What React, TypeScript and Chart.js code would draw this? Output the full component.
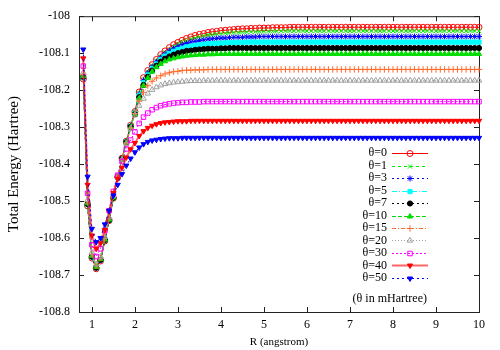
import React, { useEffect, useRef } from "react";
import { Chart, registerables } from "chart.js";
import { drawPoint } from "chart.js/helpers";

Chart.register(...registerables);

// ---------- data ----------
const R = [
  0.8, 0.9, 1.0, 1.1, 1.2, 1.3, 1.4, 1.5, 1.6, 1.7, 1.8, 1.9,
  2.0, 2.1, 2.2, 2.3, 2.4, 2.5, 2.6, 2.7, 2.8, 2.9,
  3.0, 3.1, 3.2, 3.3, 3.4, 3.5, 3.6, 3.7, 3.8, 3.9,
  4.0, 4.1, 4.2, 4.3, 4.4, 4.5, 4.6, 4.7, 4.8, 4.9,
  5.0, 5.1, 5.2, 5.3, 5.4, 5.5, 5.6, 5.7, 5.8, 5.9,
  6.0, 6.1, 6.2, 6.3, 6.4, 6.5, 6.6, 6.7, 6.8, 6.9,
  7.0, 7.1, 7.2, 7.3, 7.4, 7.5, 7.6, 7.7, 7.8, 7.9,
  8.0, 8.1, 8.2, 8.3, 8.4, 8.5, 8.6, 8.7, 8.8, 8.9,
  9.0, 9.1, 9.2, 9.3, 9.4, 9.5, 9.6, 9.7, 9.8, 9.9,
  10.0,
];

const E_t0 = [
  -108.170, -108.513, -108.654, -108.683, -108.662, -108.608, -108.553, -108.492, -108.434, -108.384, -108.338, -108.295,
  -108.258, -108.205, -108.166, -108.147, -108.131, -108.117, -108.104, -108.094, -108.085, -108.077,
  -108.071, -108.065, -108.060, -108.056, -108.052, -108.049, -108.047, -108.044, -108.042, -108.041,
  -108.039, -108.038, -108.037, -108.036, -108.035, -108.034, -108.034, -108.033, -108.033, -108.032,
  -108.032, -108.032, -108.031, -108.031, -108.031, -108.031, -108.03, -108.03, -108.03, -108.03,
  -108.03, -108.03, -108.03, -108.03, -108.03, -108.03, -108.03, -108.03, -108.03, -108.03,
  -108.03, -108.03, -108.03, -108.03, -108.03, -108.03, -108.03, -108.03, -108.03, -108.03,
  -108.03, -108.03, -108.03, -108.03, -108.03, -108.03, -108.03, -108.03, -108.03, -108.03,
  -108.03, -108.03, -108.03, -108.03, -108.03, -108.03, -108.03, -108.03, -108.03, -108.03,
  -108.03,
];

const E_t1 = [
  -108.168, -108.512, -108.653, -108.682, -108.661, -108.607, -108.552, -108.492, -108.434, -108.385, -108.339, -108.296,
  -108.259, -108.207, -108.170, -108.151, -108.134, -108.120, -108.108, -108.098, -108.089, -108.082,
  -108.075, -108.070, -108.066, -108.062, -108.059, -108.056, -108.053, -108.051, -108.050, -108.048,
  -108.047, -108.046, -108.045, -108.044, -108.044, -108.043, -108.043, -108.042, -108.042, -108.042,
  -108.041, -108.041, -108.041, -108.041, -108.04, -108.04, -108.04, -108.04, -108.04, -108.04,
  -108.04, -108.04, -108.04, -108.04, -108.04, -108.04, -108.04, -108.04, -108.04, -108.04,
  -108.04, -108.04, -108.04, -108.04, -108.04, -108.04, -108.04, -108.04, -108.04, -108.04,
  -108.04, -108.04, -108.04, -108.04, -108.04, -108.04, -108.04, -108.04, -108.04, -108.04,
  -108.04, -108.04, -108.04, -108.04, -108.04, -108.04, -108.04, -108.04, -108.04, -108.04,
  -108.04,
];

const E_t3 = [
  -108.167, -108.510, -108.651, -108.681, -108.660, -108.606, -108.552, -108.491, -108.435, -108.385, -108.340, -108.297,
  -108.261, -108.210, -108.174, -108.154, -108.137, -108.123, -108.112, -108.102, -108.094, -108.087,
  -108.082, -108.077, -108.074, -108.070, -108.068, -108.066, -108.064, -108.062, -108.061, -108.060,
  -108.059, -108.059, -108.058, -108.057, -108.057, -108.057, -108.056, -108.056, -108.056, -108.055,
  -108.055, -108.055, -108.055, -108.055, -108.055, -108.055, -108.055, -108.055, -108.055, -108.055,
  -108.055, -108.055, -108.055, -108.055, -108.055, -108.055, -108.055, -108.055, -108.055, -108.055,
  -108.055, -108.055, -108.055, -108.055, -108.055, -108.055, -108.055, -108.055, -108.055, -108.055,
  -108.055, -108.055, -108.055, -108.055, -108.055, -108.055, -108.055, -108.055, -108.055, -108.055,
  -108.055, -108.055, -108.055, -108.055, -108.055, -108.055, -108.055, -108.055, -108.055, -108.055,
  -108.055,
];

const E_t5 = [
  -108.166, -108.509, -108.650, -108.680, -108.659, -108.605, -108.551, -108.491, -108.435, -108.386, -108.340, -108.298,
  -108.262, -108.214, -108.180, -108.159, -108.142, -108.129, -108.117, -108.108, -108.101, -108.095,
  -108.090, -108.087, -108.083, -108.081, -108.079, -108.077, -108.076, -108.075, -108.074, -108.073,
  -108.073, -108.072, -108.072, -108.071, -108.071, -108.071, -108.07, -108.07, -108.07, -108.07,
  -108.07, -108.07, -108.07, -108.07, -108.07, -108.07, -108.07, -108.07, -108.07, -108.07,
  -108.07, -108.07, -108.07, -108.07, -108.07, -108.07, -108.07, -108.07, -108.07, -108.07,
  -108.07, -108.07, -108.07, -108.07, -108.07, -108.07, -108.07, -108.07, -108.07, -108.07,
  -108.07, -108.07, -108.07, -108.07, -108.07, -108.07, -108.07, -108.07, -108.07, -108.07,
  -108.07, -108.07, -108.07, -108.07, -108.07, -108.07, -108.07, -108.07, -108.07, -108.07,
  -108.07,
];

const E_t7 = [
  -108.164, -108.508, -108.650, -108.680, -108.659, -108.605, -108.551, -108.491, -108.435, -108.386, -108.341, -108.299,
  -108.265, -108.219, -108.186, -108.164, -108.147, -108.134, -108.123, -108.115, -108.109, -108.104,
  -108.100, -108.097, -108.094, -108.093, -108.091, -108.090, -108.089, -108.088, -108.088, -108.088,
  -108.087, -108.087, -108.086, -108.086, -108.086, -108.086, -108.086, -108.086, -108.086, -108.086,
  -108.086, -108.086, -108.086, -108.086, -108.086, -108.086, -108.086, -108.086, -108.086, -108.086,
  -108.086, -108.086, -108.086, -108.086, -108.086, -108.086, -108.086, -108.086, -108.086, -108.086,
  -108.086, -108.086, -108.086, -108.086, -108.086, -108.086, -108.086, -108.086, -108.086, -108.086,
  -108.086, -108.086, -108.086, -108.086, -108.086, -108.086, -108.086, -108.086, -108.086, -108.086,
  -108.086, -108.086, -108.086, -108.086, -108.086, -108.086, -108.086, -108.086, -108.086, -108.086,
  -108.086,
];

const E_t10 = [
  -108.162, -108.506, -108.648, -108.678, -108.657, -108.604, -108.550, -108.490, -108.435, -108.387, -108.342, -108.301,
  -108.265, -108.222, -108.188, -108.167, -108.150, -108.138, -108.129, -108.122, -108.117, -108.114,
  -108.111, -108.109, -108.107, -108.106, -108.105, -108.104, -108.104, -108.103, -108.103, -108.102,
  -108.102, -108.102, -108.102, -108.102, -108.102, -108.102, -108.102, -108.102, -108.102, -108.102,
  -108.102, -108.102, -108.102, -108.102, -108.102, -108.102, -108.102, -108.102, -108.102, -108.102,
  -108.102, -108.102, -108.102, -108.102, -108.102, -108.102, -108.102, -108.102, -108.102, -108.102,
  -108.102, -108.102, -108.102, -108.102, -108.102, -108.102, -108.102, -108.102, -108.102, -108.102,
  -108.102, -108.102, -108.102, -108.102, -108.102, -108.102, -108.102, -108.102, -108.102, -108.102,
  -108.102, -108.102, -108.102, -108.102, -108.102, -108.102, -108.102, -108.102, -108.102, -108.102,
  -108.102,
];

const E_t15 = [
  -108.158, -108.502, -108.644, -108.675, -108.654, -108.601, -108.547, -108.488, -108.434, -108.387, -108.343, -108.303,
  -108.263, -108.230, -108.206, -108.188, -108.176, -108.167, -108.161, -108.156, -108.153, -108.150,
  -108.149, -108.147, -108.146, -108.146, -108.145, -108.145, -108.145, -108.144, -108.144, -108.144,
  -108.144, -108.144, -108.144, -108.144, -108.144, -108.144, -108.144, -108.144, -108.144, -108.144,
  -108.144, -108.144, -108.144, -108.144, -108.144, -108.144, -108.144, -108.144, -108.144, -108.144,
  -108.144, -108.144, -108.144, -108.144, -108.144, -108.144, -108.144, -108.144, -108.144, -108.144,
  -108.144, -108.144, -108.144, -108.144, -108.144, -108.144, -108.144, -108.144, -108.144, -108.144,
  -108.144, -108.144, -108.144, -108.144, -108.144, -108.144, -108.144, -108.144, -108.144, -108.144,
  -108.144, -108.144, -108.144, -108.144, -108.144, -108.144, -108.144, -108.144, -108.144, -108.144,
  -108.144,
];

const E_t20 = [
  -108.152, -108.497, -108.639, -108.671, -108.650, -108.597, -108.544, -108.486, -108.433, -108.388, -108.345, -108.305,
  -108.268, -108.242, -108.223, -108.209, -108.199, -108.192, -108.187, -108.183, -108.181, -108.179,
  -108.178, -108.177, -108.176, -108.175, -108.175, -108.175, -108.174, -108.174, -108.174, -108.174,
  -108.174, -108.174, -108.174, -108.174, -108.174, -108.174, -108.174, -108.174, -108.174, -108.174,
  -108.174, -108.174, -108.174, -108.174, -108.174, -108.174, -108.174, -108.174, -108.174, -108.174,
  -108.174, -108.174, -108.174, -108.174, -108.174, -108.174, -108.174, -108.174, -108.174, -108.174,
  -108.174, -108.174, -108.174, -108.174, -108.174, -108.174, -108.174, -108.174, -108.174, -108.174,
  -108.174, -108.174, -108.174, -108.174, -108.174, -108.174, -108.174, -108.174, -108.174, -108.174,
  -108.174, -108.174, -108.174, -108.174, -108.174, -108.174, -108.174, -108.174, -108.174, -108.174,
  -108.174,
];

const E_t30 = [
  -108.135, -108.479, -108.618, -108.650, -108.629, -108.580, -108.526, -108.474, -108.430, -108.393, -108.359, -108.335,
  -108.313, -108.290, -108.273, -108.262, -108.253, -108.247, -108.242, -108.239, -108.237, -108.235,
  -108.234, -108.233, -108.233, -108.232, -108.232, -108.232, -108.231, -108.231, -108.231, -108.231,
  -108.231, -108.231, -108.231, -108.231, -108.231, -108.231, -108.231, -108.231, -108.231, -108.231,
  -108.231, -108.231, -108.231, -108.231, -108.231, -108.231, -108.231, -108.231, -108.231, -108.231,
  -108.231, -108.231, -108.231, -108.231, -108.231, -108.231, -108.231, -108.231, -108.231, -108.231,
  -108.231, -108.231, -108.231, -108.231, -108.231, -108.231, -108.231, -108.231, -108.231, -108.231,
  -108.231, -108.231, -108.231, -108.231, -108.231, -108.231, -108.231, -108.231, -108.231, -108.231,
  -108.231, -108.231, -108.231, -108.231, -108.231, -108.231, -108.231, -108.231, -108.231, -108.231,
  -108.231,
];

const E_t40 = [
  -108.114, -108.456, -108.593, -108.629, -108.614, -108.578, -108.528, -108.478, -108.440, -108.410, -108.382, -108.360,
  -108.343, -108.324, -108.311, -108.302, -108.296, -108.292, -108.289, -108.287, -108.286, -108.285,
  -108.284, -108.284, -108.284, -108.283, -108.283, -108.283, -108.283, -108.283, -108.283, -108.283,
  -108.283, -108.283, -108.283, -108.283, -108.283, -108.283, -108.283, -108.283, -108.283, -108.283,
  -108.283, -108.283, -108.283, -108.283, -108.283, -108.283, -108.283, -108.283, -108.283, -108.283,
  -108.283, -108.283, -108.283, -108.283, -108.283, -108.283, -108.283, -108.283, -108.283, -108.283,
  -108.283, -108.283, -108.283, -108.283, -108.283, -108.283, -108.283, -108.283, -108.283, -108.283,
  -108.283, -108.283, -108.283, -108.283, -108.283, -108.283, -108.283, -108.283, -108.283, -108.283,
  -108.283, -108.283, -108.283, -108.283, -108.283, -108.283, -108.283, -108.283, -108.283, -108.283,
  -108.283,
];

const E_t50 = [
  -108.090, -108.434, -108.575, -108.611, -108.600, -108.563, -108.526, -108.485, -108.456, -108.427, -108.404, -108.385,
  -108.368, -108.355, -108.346, -108.340, -108.336, -108.334, -108.332, -108.331, -108.330, -108.330,
  -108.330, -108.329, -108.329, -108.329, -108.329, -108.329, -108.329, -108.329, -108.329, -108.329,
  -108.329, -108.329, -108.329, -108.329, -108.329, -108.329, -108.329, -108.329, -108.329, -108.329,
  -108.329, -108.329, -108.329, -108.329, -108.329, -108.329, -108.329, -108.329, -108.329, -108.329,
  -108.329, -108.329, -108.329, -108.329, -108.329, -108.329, -108.329, -108.329, -108.329, -108.329,
  -108.329, -108.329, -108.329, -108.329, -108.329, -108.329, -108.329, -108.329, -108.329, -108.329,
  -108.329, -108.329, -108.329, -108.329, -108.329, -108.329, -108.329, -108.329, -108.329, -108.329,
  -108.329, -108.329, -108.329, -108.329, -108.329, -108.329, -108.329, -108.329, -108.329, -108.329,
  -108.329,
];

const seriesLabels = ["θ=0", "θ=1", "θ=3", "θ=5", "θ=7", "θ=10", "θ=15", "θ=20", "θ=30", "θ=40", "θ=50"];
const seriesValues = [E_t0, E_t1, E_t3, E_t5, E_t7, E_t10, E_t15, E_t20, E_t30, E_t40, E_t50];

const xTicks = [1, 2, 3, 4, 5, 6, 7, 8, 9, 10];
const yTicks = [-108.8, -108.7, -108.6, -108.5, -108.4, -108.3, -108.2, -108.1, -108];
const yTickLabels = ["-108.8", "-108.7", "-108.6", "-108.5", "-108.4", "-108.3", "-108.2", "-108.1", "-108"];

const xTitle = "R (angstrom)";
const yTitle = "Total Energy (Hartree)";
const noteText = "(θ in mHartree)";

// ---------- styles ----------
const FONT = "'Liberation Serif', 'Times New Roman', serif";
const styles = [
  { line: "#ff0000", point: "#ff0000", fill: "rgba(0,0,0,0)", dash: [], width: 1, ps: "circle", r: 3, rot: 0 },
  { line: "#00ee00", point: "#00ee00", fill: "rgba(0,0,0,0)", dash: [3, 3], width: 1, ps: "crossRot", r: 3, rot: 0 },
  { line: "#0000ff", point: "#0000ff", fill: "#0000ff", dash: [2, 3], width: 1, ps: "star", r: 3, rot: 0 },
  { line: "#00ffff", point: "#00ffff", fill: "#00ffff", dash: [5, 2, 1, 2], width: 1, ps: "rect", r: 3, rot: 0 },
  { line: "#000000", point: "#000000", fill: "#000000", dash: [2, 3], width: 1, ps: "circle", r: 2.6, rot: 0 },
  { line: "#00dd00", point: "#00dd00", fill: "#00dd00", dash: [4, 2], width: 1, ps: "triangle", r: 3, rot: 0 },
  { line: "#ff6a2a", point: "#ff6a2a", fill: "rgba(0,0,0,0)", dash: [4, 2, 1, 2], width: 1, ps: "cross", r: 3.2, rot: 0 },
  { line: "#a0a0a0", point: "#a0a0a0", fill: "rgba(0,0,0,0)", dash: [1, 2], width: 1, ps: "triangle", r: 3.2, rot: 0 },
  { line: "#ff00ff", point: "#ff00ff", fill: "rgba(0,0,0,0)", dash: [2, 2], width: 1, ps: "rect", r: 3.2, rot: 0 },
  { line: "rgba(255,0,0,0.6)", point: "#ff0000", fill: "#ff0000", dash: [], width: 2, ps: "triangle", r: 3, rot: 180 },
  { line: "#0000ff", point: "#0000ff", fill: "#0000ff", dash: [2, 3], width: 1, ps: "triangle", r: 3, rot: 180 },
];

const overlayPlugin = {
  id: "gnuplotOverlay",
  beforeDatasetsDraw(chart: any) {
    const { ctx, chartArea: a, scales } = chart;
    ctx.save();
    ctx.strokeStyle = "#222";
    ctx.lineWidth = 1;
    ctx.setLineDash([]);
    ctx.strokeRect(a.left + 0.5, a.top + 0.5, a.right - a.left, a.bottom - a.top);
    ctx.beginPath();
    for (const v of xTicks) {
      const px = Math.round(scales.x.getPixelForValue(v)) + 0.5;
      ctx.moveTo(px, a.bottom);
      ctx.lineTo(px, a.bottom - 5);
      ctx.moveTo(px, a.top);
      ctx.lineTo(px, a.top + 5);
    }
    for (const v of yTicks) {
      const py = Math.round(scales.y.getPixelForValue(v)) + 0.5;
      ctx.moveTo(a.left, py);
      ctx.lineTo(a.left + 5, py);
      ctx.moveTo(a.right, py);
      ctx.lineTo(a.right - 5, py);
    }
    ctx.stroke();
    ctx.restore();
  },
  afterDatasetsDraw(chart: any) {
    const { ctx, chartArea: a } = chart;
    ctx.save();
    ctx.font = `12px ${FONT}`;
    ctx.fillStyle = "#000";
    ctx.textBaseline = "middle";
    ctx.textAlign = "right";
    const top = a.top + 137;
    const step = 12.47;
    seriesLabels.forEach((lab, i) => {
      const s = styles[i];
      const y = top + i * step;
      ctx.fillStyle = "#000";
      ctx.fillText(lab, a.right - 92, y);
      ctx.strokeStyle = s.line;
      ctx.lineWidth = s.width;
      ctx.setLineDash(s.dash);
      ctx.beginPath();
      ctx.moveTo(a.right - 87, Math.round(y) + 0.5);
      ctx.lineTo(a.right - 51, Math.round(y) + 0.5);
      ctx.stroke();
      ctx.setLineDash([]);
      ctx.strokeStyle = s.point;
      ctx.fillStyle = s.fill;
      ctx.lineWidth = 1;
      drawPoint(ctx, { pointStyle: s.ps, rotation: s.rot, radius: s.r, borderWidth: 1 } as any, a.right - 69, Math.round(y) + 0.5);
    });
    ctx.fillStyle = "#000";
    ctx.fillText(noteText, a.right - 52, a.top + 283);
    ctx.restore();
  },
};

export default function App() {
  const ref = useRef<HTMLCanvasElement | null>(null);
  useEffect(() => {
    if (!ref.current) return;
    const n = seriesValues.length;
    const datasets = seriesValues.map((vals, i) => {
      const s = styles[i];
      return {
        label: seriesLabels[i],
        data: R.map((x, j) => ({ x, y: vals[j] })),
        borderColor: s.line,
        borderWidth: s.width,
        borderDash: s.dash,
        pointStyle: s.ps,
        pointRadius: s.r,
        pointRotation: s.rot,
        pointBorderColor: s.point,
        pointBackgroundColor: s.fill,
        pointBorderWidth: 1,
        tension: 0,
        fill: false,
        clip: false as any,
        order: n - i,
      };
    });
    const chart = new Chart(ref.current, {
      type: "line",
      data: { datasets },
      options: {
        animation: false,
        responsive: false,
        maintainAspectRatio: false,
        events: [],
        layout: { padding: { left: 0, right: 21, top: 15, bottom: 0 } },
        plugins: { legend: { display: false }, tooltip: { enabled: false } },
        scales: {
          x: {
            type: "linear",
            min: 0.7,
            max: 10,
            afterBuildTicks: (s: any) => {
              s.ticks = xTicks.map((v) => ({ value: v }));
            },
            afterFit: (s: any) => {
              s.height = 38;
            },
            grid: { display: false, drawTicks: false },
            border: { display: false },
            ticks: {
              color: "#000",
              font: { family: FONT, size: 12 },
              padding: 6,
              maxRotation: 0,
              autoSkip: false,
              callback: (v: any) => String(v),
            },
            title: {
              display: true,
              text: xTitle,
              color: "#000",
              font: { family: FONT, size: 11 },
              padding: { top: 0, bottom: 1 },
            },
          },
          y: {
            type: "linear",
            min: -108.8,
            max: -108,
            afterBuildTicks: (s: any) => {
              s.ticks = yTicks.map((v) => ({ value: v }));
            },
            afterFit: (s: any) => {
              s.width = 79;
            },
            grid: { display: false, drawTicks: false },
            border: { display: false },
            ticks: {
              color: "#000",
              font: { family: FONT, size: 12 },
              padding: 9,
              autoSkip: false,
              callback: (_v: any, idx: number) => yTickLabels[idx],
            },
            title: {
              display: true,
              text: yTitle,
              color: "#000",
              font: { family: FONT, size: 15 },
              padding: { top: 5, bottom: 0 },
            },
          },
        },
      },
      plugins: [overlayPlugin],
    });
    return () => chart.destroy();
  }, []);
  return (
    <div style={{ position: "absolute", left: 0, top: 0, width: 500, height: 350, background: "#fff" }}>
      <canvas ref={ref} width={500} height={350} style={{ width: 500, height: 350, display: "block" }} />
    </div>
  );
}
